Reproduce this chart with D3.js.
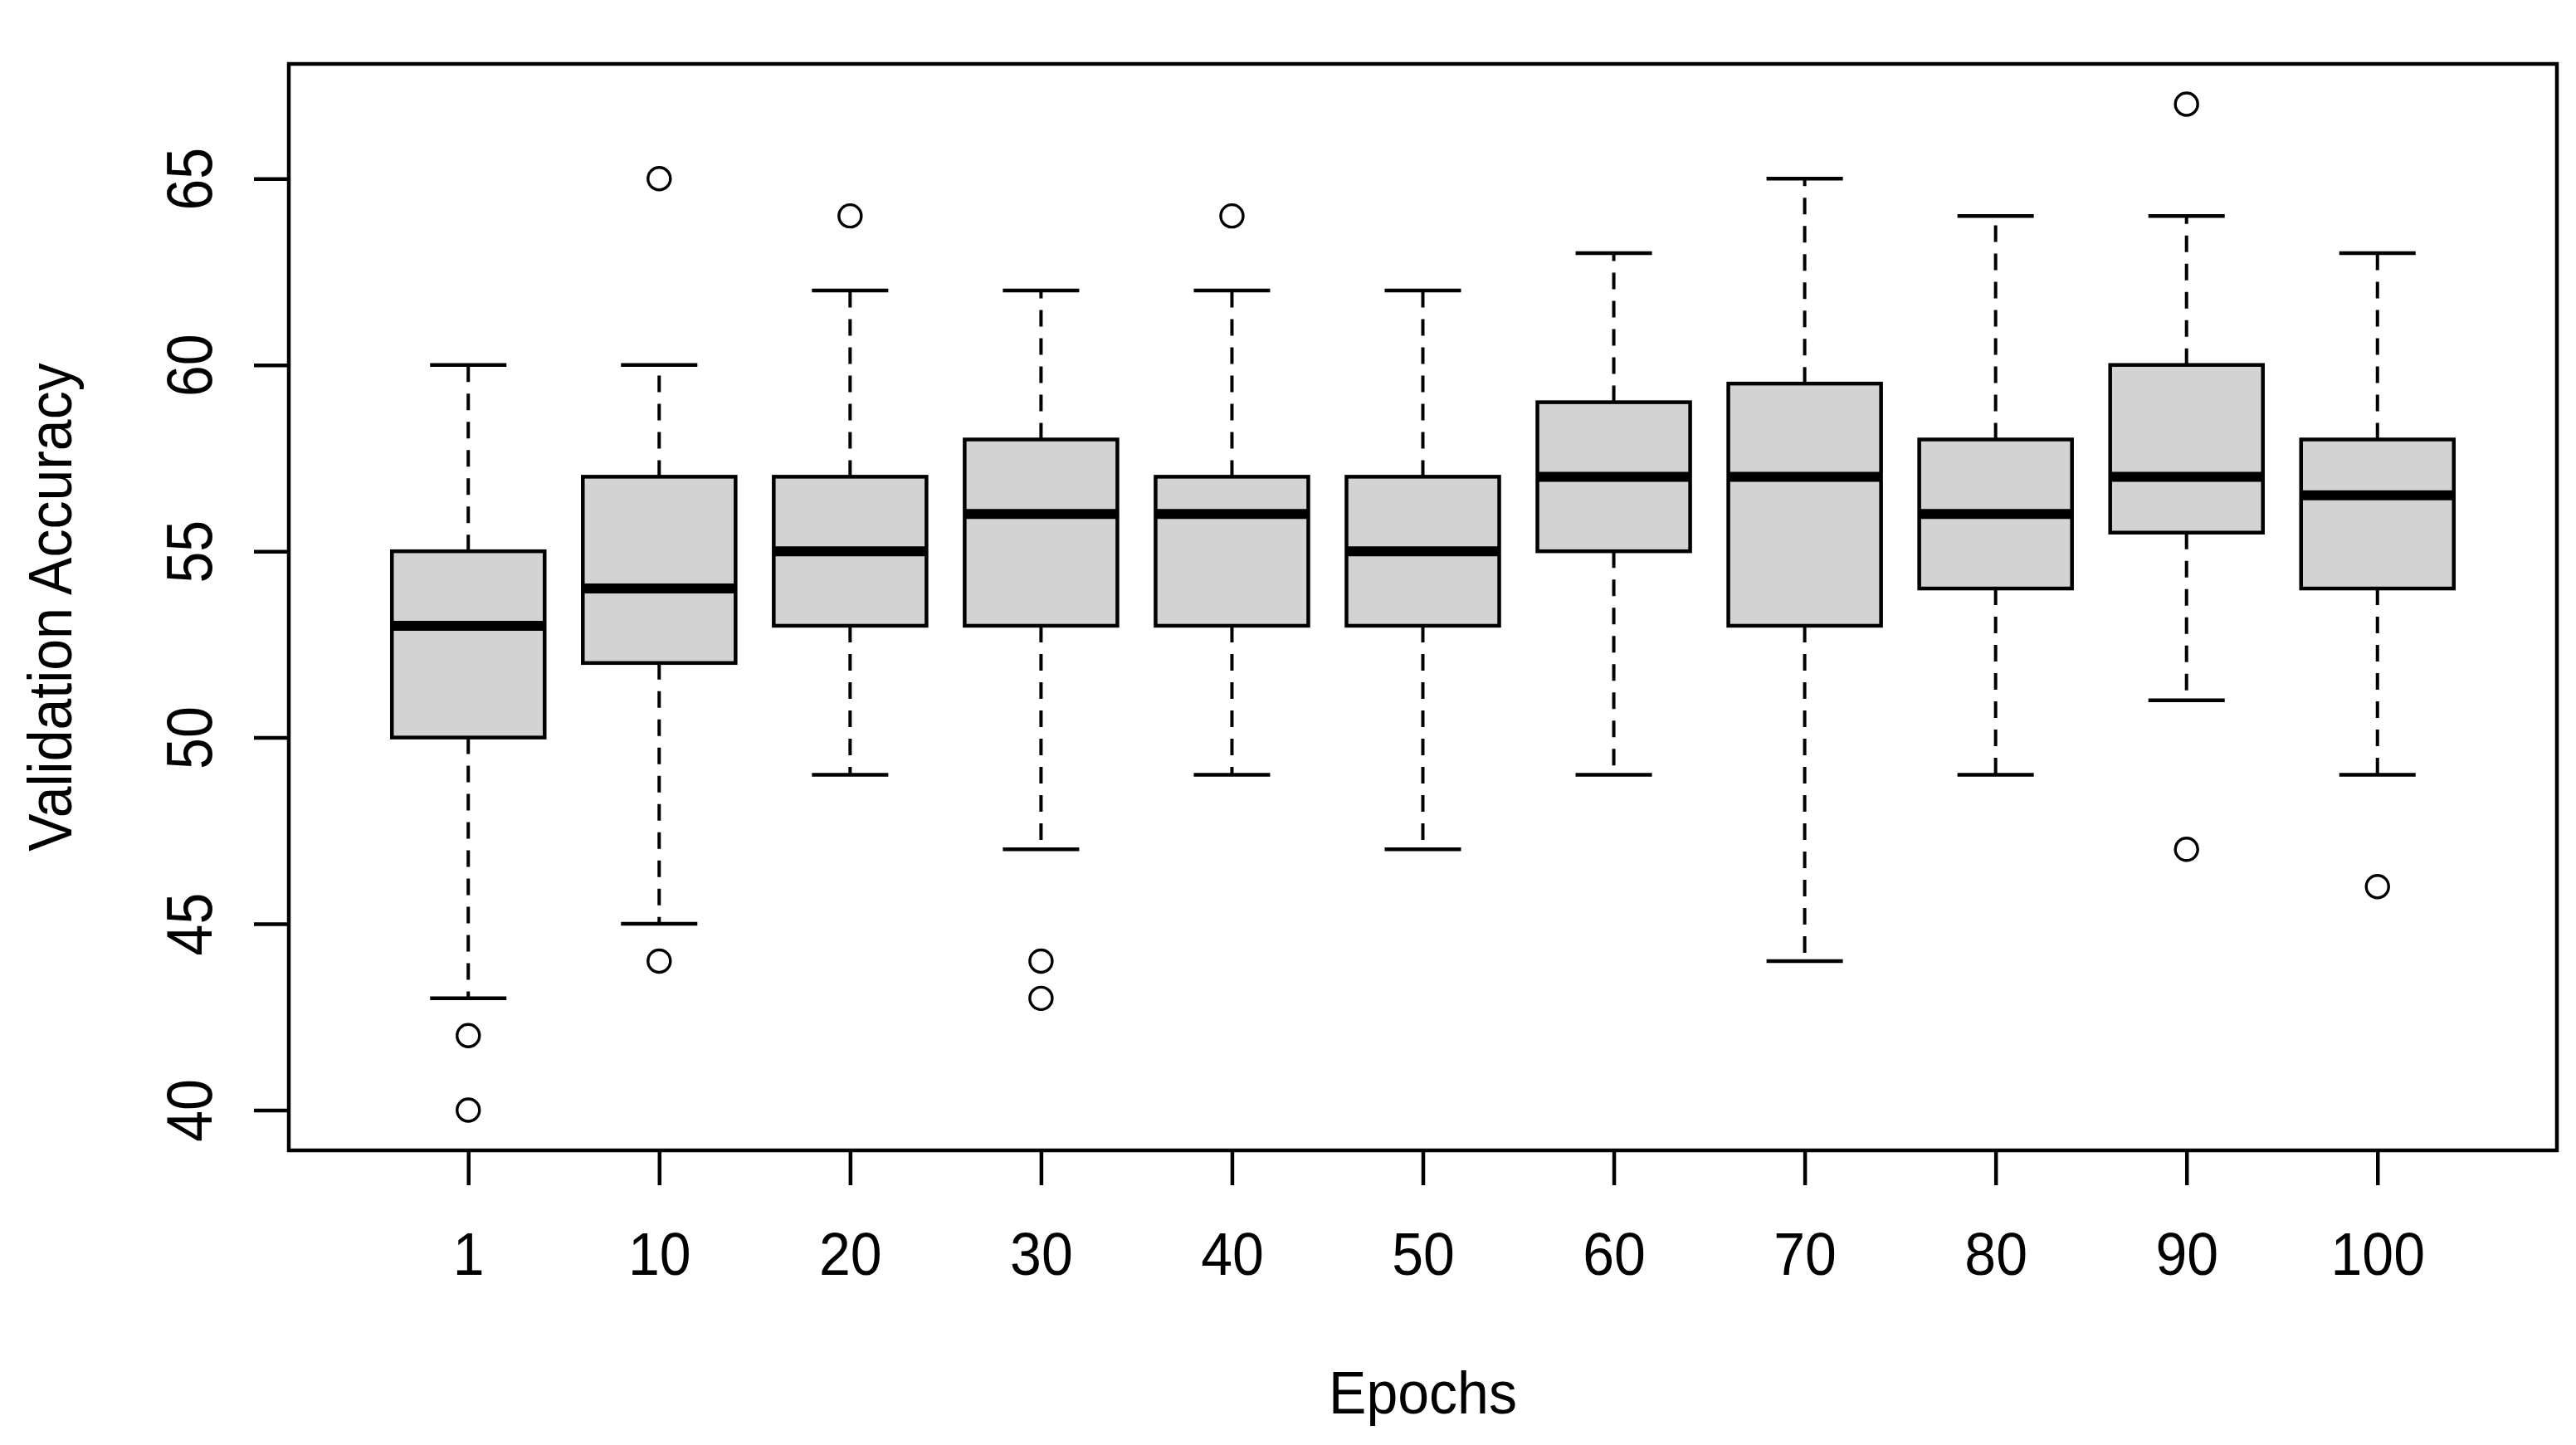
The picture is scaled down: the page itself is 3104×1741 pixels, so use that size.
<!DOCTYPE html>
<html>
<head>
<meta charset="utf-8">
<script src="https://cdnjs.cloudflare.com/ajax/libs/d3/7.8.5/d3.min.js"></script>
<style>
  body { margin: 0; background: #fff; }
  svg text { font-family: "Liberation Sans", Arial, sans-serif; fill: #000; }
</style>
</head>
<body>
<div id="drawing-area"></div>
<script>
// box stats, one entry per epoch
var epochs = ["1", "10", "20", "30", "40", "50", "60", "70", "80", "90", "100"];
var whiskerLow = [43, 45, 49, 47, 49, 47, 49, 44, 49, 51, 49];
var q1 = [50, 52, 53, 53, 53, 53, 55, 53, 54, 55.5, 54];
var medians = [53, 54, 55, 56, 56, 55, 57, 57, 56, 57, 56.5];
var q3 = [55, 57, 57, 58, 57, 57, 59, 59.5, 58, 60, 58];
var whiskerHigh = [60, 60, 62, 62, 62, 62, 63, 65, 64, 64, 63];
var outliers = [[42, 40], [65, 44], [64], [44, 43], [64], [], [], [], [], [67, 47], [46]];
var yTicks = [40, 45, 50, 55, 60, 65];
var xTitle = "Epochs";
var yTitle = "Validation Accuracy";

var W = 3104, H = 1741;
var m = { left: 348, right: 23, top: 77, bottom: 355 };

var svg = d3.select('#drawing-area').append('svg').attr('width', W).attr('height', H);

var x = d3.scaleLinear().domain([0.06, 11.94]).range([m.left, W - m.right]);
var y = d3.scaleLinear().domain([38.92, 68.08]).range([H - m.bottom, m.top]);

var boxHalf = 0.4, capHalf = 0.2;
var fs = 68;

var boxes = [];
for (var i = 0; i < epochs.length; i++) {
    boxes.push({ pos: i + 1, lo: whiskerLow[i], q1: q1[i], med: medians[i], q3: q3[i], hi: whiskerHigh[i], out: outliers[i] });
}

var g = svg.append("g");

// whiskers (dashed) + caps, box, median, outliers
boxes.forEach(function (b) {
    var cx = x(b.pos);
    g.append("line").attr("x1", cx).attr("x2", cx).attr("y1", y(b.q3)).attr("y2", y(b.hi))
        .attr("stroke", "#000").attr("stroke-width", 4).attr("stroke-dasharray", "20,14");
    g.append("line").attr("x1", cx).attr("x2", cx).attr("y1", y(b.q1)).attr("y2", y(b.lo))
        .attr("stroke", "#000").attr("stroke-width", 4).attr("stroke-dasharray", "20,14");
    [b.lo, b.hi].forEach(function (v) {
        g.append("line").attr("x1", x(b.pos - capHalf)).attr("x2", x(b.pos + capHalf))
            .attr("y1", y(v)).attr("y2", y(v))
            .attr("stroke", "#000").attr("stroke-width", 4.5);
    });
    g.append("rect")
        .attr("x", x(b.pos - boxHalf)).attr("width", x(b.pos + boxHalf) - x(b.pos - boxHalf))
        .attr("y", y(b.q3)).attr("height", y(b.q1) - y(b.q3))
        .attr("fill", "#d3d3d3").attr("stroke", "#000").attr("stroke-width", 4.5);
    g.append("line").attr("x1", x(b.pos - boxHalf)).attr("x2", x(b.pos + boxHalf))
        .attr("y1", y(b.med)).attr("y2", y(b.med))
        .attr("stroke", "#000").attr("stroke-width", 12);
    b.out.forEach(function (v) {
        g.append("circle").attr("cx", cx).attr("cy", y(v)).attr("r", 13.5)
            .attr("fill", "none").attr("stroke", "#000").attr("stroke-width", 3.4);
    });
});

// frame
svg.append("rect")
    .attr("x", m.left).attr("y", m.top)
    .attr("width", W - m.right - m.left).attr("height", H - m.bottom - m.top)
    .attr("fill", "none").attr("stroke", "#000").attr("stroke-width", 4.5);

// y axis, labels run along the axis
var yAxis = svg.append("g").attr("transform", "translate(" + m.left + ",0)")
    .call(d3.axisLeft(y).tickValues(yTicks).tickSize(42).tickSizeOuter(0));
yAxis.select(".domain").remove();
yAxis.selectAll(".tick line").attr("stroke", "#000").attr("stroke-width", 4.5);
yAxis.selectAll(".tick text")
    .attr("x", 0).attr("y", 0).attr("dy", 0)
    .attr("transform", "translate(-93,0) rotate(-90) scale(1,1.15)")
    .attr("text-anchor", "middle")
    .style("font-size", fs + "px");

// x axis
var xAxis = svg.append("g").attr("transform", "translate(0," + (H - m.bottom) + ")")
    .call(d3.axisBottom(x).tickValues(d3.range(1, epochs.length + 1))
        .tickFormat(function (d) { return epochs[d - 1]; })
        .tickSize(42).tickSizeOuter(0));
xAxis.select(".domain").remove();
xAxis.selectAll(".tick line").attr("stroke", "#000").attr("stroke-width", 4.5);
xAxis.selectAll(".tick text")
    .attr("y", 0).attr("dy", 0)
    .attr("transform", "translate(0,150) scale(1,1.05)")
    .style("font-size", fs + "px");

// titles
svg.append("text")
    .attr("transform", "translate(" + ((m.left + W - m.right) / 2) + ",1703) scale(1,1.05)")
    .attr("text-anchor", "middle").style("font-size", fs + "px")
    .text(xTitle);
svg.append("text")
    .attr("transform", "translate(86," + ((m.top + H - m.bottom) / 2) + ") rotate(-90) scale(1,1.08)")
    .attr("text-anchor", "middle").style("font-size", fs + "px")
    .text(yTitle);
</script>
</body>
</html>
